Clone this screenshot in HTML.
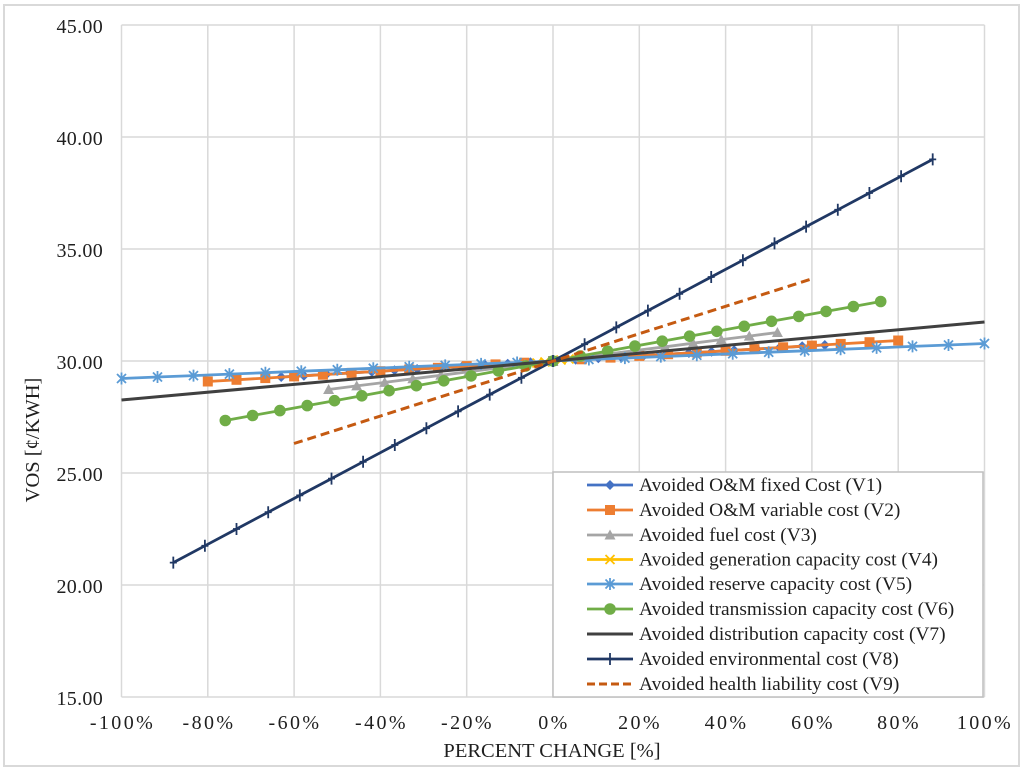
<!DOCTYPE html>
<html>
<head>
<meta charset="utf-8">
<style>
  html, body { margin:0; padding:0; background:#ffffff; }
  svg { display:block; }
  text { font-family: "Liberation Serif", "Times New Roman", serif; fill:#1f1f1f; }
</style>
</head>
<body>
<svg width="1024" height="770" viewBox="0 0 1024 770" xmlns="http://www.w3.org/2000/svg">
  <defs>
    <marker id="mDia" markerUnits="userSpaceOnUse" markerWidth="12" markerHeight="12" refX="0" refY="0" overflow="visible">
      <path d="M0,-5 L5,0 L0,5 L-5,0 Z" fill="#4472c4"/>
    </marker>
    <marker id="mSq" markerUnits="userSpaceOnUse" markerWidth="12" markerHeight="12" refX="0" refY="0" overflow="visible">
      <rect x="-5" y="-5" width="10" height="10" fill="#ed7d31"/>
    </marker>
    <marker id="mTri" markerUnits="userSpaceOnUse" markerWidth="12" markerHeight="12" refX="0" refY="0" overflow="visible">
      <path d="M0,-5.5 L5.5,4.5 L-5.5,4.5 Z" fill="#a5a5a5"/>
    </marker>
    <marker id="mX" markerUnits="userSpaceOnUse" markerWidth="12" markerHeight="12" refX="0" refY="0" overflow="visible">
      <path d="M-4.5,-4.5 L4.5,4.5 M-4.5,4.5 L4.5,-4.5" stroke="#ffc000" stroke-width="1.8" fill="none"/>
    </marker>
    <marker id="mAst" markerUnits="userSpaceOnUse" markerWidth="12" markerHeight="12" refX="0" refY="0" overflow="visible">
      <path d="M-4.5,-4.5 L4.5,4.5 M-4.5,4.5 L4.5,-4.5 M0,-6 L0,6" stroke="#5b9bd5" stroke-width="1.8" fill="none"/>
    </marker>
    <marker id="mCir" markerUnits="userSpaceOnUse" markerWidth="14" markerHeight="14" refX="0" refY="0" overflow="visible">
      <circle cx="0" cy="0" r="5.8" fill="#70ad47"/>
    </marker>
    <marker id="mPlus" markerUnits="userSpaceOnUse" markerWidth="12" markerHeight="12" refX="0" refY="0" overflow="visible">
      <path d="M0,-6 L0,6 M-3.5,0 L3.5,0" stroke="#203864" stroke-width="1.8" fill="none"/>
    </marker>
  </defs>

  <!-- outer border -->
  <rect x="4" y="5" width="1015" height="761" fill="#ffffff" stroke="#d9d9d9" stroke-width="2"/>

  <!-- gridlines -->
  <g stroke="#d9d9d9" stroke-width="1.5" fill="none">
    <line x1="121.5" y1="25" x2="984.5" y2="25"/>
    <line x1="121.5" y1="137" x2="984.5" y2="137"/>
    <line x1="121.5" y1="249" x2="984.5" y2="249"/>
    <line x1="121.5" y1="361" x2="984.5" y2="361"/>
    <line x1="121.5" y1="473" x2="984.5" y2="473"/>
    <line x1="121.5" y1="585" x2="984.5" y2="585"/>
    <line x1="121.5" y1="697" x2="984.5" y2="697"/>
    <line x1="121.5" y1="25" x2="121.5" y2="697"/>
    <line x1="207.8" y1="25" x2="207.8" y2="697"/>
    <line x1="294.1" y1="25" x2="294.1" y2="697"/>
    <line x1="380.4" y1="25" x2="380.4" y2="697"/>
    <line x1="466.7" y1="25" x2="466.7" y2="697"/>
    <line x1="553" y1="25" x2="553" y2="697"/>
    <line x1="639.3" y1="25" x2="639.3" y2="697"/>
    <line x1="725.6" y1="25" x2="725.6" y2="697"/>
    <line x1="811.9" y1="25" x2="811.9" y2="697"/>
    <line x1="898.2" y1="25" x2="898.2" y2="697"/>
    <line x1="984.5" y1="25" x2="984.5" y2="697"/>
  </g>

  <!-- Y tick labels -->
  <g font-size="20" text-anchor="end" letter-spacing="0.3">
    <text x="103" y="33">45.00</text>
    <text x="103" y="145">40.00</text>
    <text x="103" y="257">35.00</text>
    <text x="103" y="369">30.00</text>
    <text x="103" y="481">25.00</text>
    <text x="103" y="593">20.00</text>
    <text x="103" y="705">15.00</text>
  </g>

  <!-- X tick labels -->
  <g font-size="20" text-anchor="middle" letter-spacing="2.4">
    <text x="122.5" y="729">-100%</text>
    <text x="209" y="729">-80%</text>
    <text x="295" y="729">-60%</text>
    <text x="381.5" y="729">-40%</text>
    <text x="467.5" y="729">-20%</text>
    <text x="554" y="729">0%</text>
    <text x="640" y="729">20%</text>
    <text x="726.5" y="729">40%</text>
    <text x="813" y="729">60%</text>
    <text x="899" y="729">80%</text>
    <text x="985" y="729">100%</text>
  </g>

  <!-- axis titles -->
  <text x="552" y="757" font-size="20.5" text-anchor="middle">PERCENT CHANGE [%]</text>
  <text transform="translate(39,440) rotate(-90)" font-size="20.5" text-anchor="middle">VOS [¢/KWH]</text>

  <!-- V1 Avoided O&M fixed cost -->
  <polyline fill="none" stroke="#4472c4" stroke-width="2.8" marker-start="url(#mDia)" marker-mid="url(#mDia)" marker-end="url(#mDia)"
    points="281.2,377 303.9,375.7 326.5,374.3 349.2,373 371.8,371.7 394.5,370.3 417.1,369 439.8,367.7 462.4,366.3 485.1,365 507.7,363.7 530.4,362.3 553,361 575.7,359.7 598.3,358.3 621,357 643.6,355.7 666.3,354.3 688.9,353 711.6,351.7 734.2,350.3 756.9,349 779.5,347.7 802.2,346.3 824.8,345"/>

  <!-- V2 Avoided O&M variable cost -->
  <polyline fill="none" stroke="#ed7d31" stroke-width="2.8" marker-start="url(#mSq)" marker-mid="url(#mSq)" marker-end="url(#mSq)"
    points="207.8,381.5 236.5,379.8 265.3,378.1 294.1,376.4 322.9,374.7 351.6,372.9 380.4,371.2 409.2,369.5 437.9,367.8 466.7,366.1 495.5,364.4 524.2,362.7 553,361 581.8,359.3 610.5,357.6 639.3,355.9 668.1,354.2 696.8,352.5 725.6,350.8 754.4,349.1 783.1,347.3 811.9,345.6 840.7,343.9 869.5,342.2 898.2,340.5"/>

  <!-- V3 Avoided fuel cost -->
  <polyline fill="none" stroke="#a5a5a5" stroke-width="2.8" marker-start="url(#mTri)" marker-mid="url(#mTri)" marker-end="url(#mTri)"
    points="328.6,389.5 356.7,385.9 384.7,382.4 412.8,378.8 440.8,375.3 468.8,371.7 496.9,368.1 524.9,364.6 553,361 581.1,357.4 609.1,353.9 637.2,350.3 665.2,346.8 693.2,343.2 721.3,339.6 749.3,336.1 777.4,332.5"/>

  <!-- V4 Avoided generation capacity cost -->
  <polyline fill="none" stroke="#ffc000" stroke-width="2.8" marker-start="url(#mX)" marker-mid="url(#mX)" marker-end="url(#mX)"
    points="537,363 545,362 553,361 561,360 569,359"/>

  <!-- V5 Avoided reserve capacity cost -->
  <polyline fill="none" stroke="#5b9bd5" stroke-width="2.8" marker-start="url(#mAst)" marker-mid="url(#mAst)" marker-end="url(#mAst)"
    points="121.5,378.5 157.5,377 193.5,375.6 229.4,374.1 265.4,372.7 301.3,371.2 337.3,369.8 373.3,368.3 409.2,366.8 445.2,365.4 481.1,363.9 517.1,362.5 553,361 588.9,359.5 624.9,358.1 660.8,356.6 696.8,355.2 732.7,353.7 768.7,352.2 804.7,350.8 840.6,349.3 876.6,347.9 912.5,346.4 948.5,345 984.5,343.5"/>

  <!-- V6 Avoided transmission capacity cost -->
  <polyline fill="none" stroke="#70ad47" stroke-width="2.8" marker-start="url(#mCir)" marker-mid="url(#mCir)" marker-end="url(#mCir)"
    points="225.3,420.5 252.6,415.5 279.9,410.6 307.2,405.6 334.5,400.7 361.8,395.8 389.1,390.7 416.4,385.7 443.8,380.8 471.1,375.9 498.4,370.9 525.7,366 553,361 580.3,356 607.6,351.1 634.9,346.1 662.2,341.2 689.6,336.2 716.9,331.3 744.2,326.3 771.5,321.3 798.8,316.4 826.1,311.4 853.4,306.5 880.7,301.5"/>

  <!-- V7 Avoided distribution capacity cost -->
  <line x1="121.5" y1="400" x2="984.5" y2="322" stroke="#404040" stroke-width="3"/>

  <!-- V8 Avoided environmental cost -->
  <polyline fill="none" stroke="#203864" stroke-width="2.8" marker-start="url(#mPlus)" marker-mid="url(#mPlus)" marker-end="url(#mPlus)"
    points="173.3,562.6 204.9,545.8 236.5,529 268.2,512.2 299.8,495.4 331.5,478.6 363.1,461.8 394.8,445 426.4,428.2 458.1,411.4 489.7,394.6 521.4,377.8 553,361 584.6,344.2 616.3,327.4 647.9,310.6 679.6,293.8 711.2,277 742.9,260.2 774.5,243.4 806.1,226.6 837.8,209.8 869.4,193 901.1,176.2 932.7,159.4"/>

  <!-- V9 Avoided health liability cost -->
  <line x1="294" y1="443.5" x2="813" y2="278.5" stroke="#c55a11" stroke-width="3" stroke-dasharray="9,5"/>

  <!-- legend -->
  <rect x="553" y="472" width="430" height="225" fill="#ffffff" stroke="#bfbfbf" stroke-width="1.5"/>
  <g fill="none" stroke-width="2.8">
    <path d="M587,485 L610,485 L633,485" stroke="#4472c4" marker-mid="url(#mDia)"/>
    <path d="M587,510 L610,510 L633,510" stroke="#ed7d31" marker-mid="url(#mSq)"/>
    <path d="M587,535 L610,535 L633,535" stroke="#a5a5a5" marker-mid="url(#mTri)"/>
    <path d="M587,559.5 L610,559.5 L633,559.5" stroke="#ffc000" marker-mid="url(#mX)"/>
    <path d="M587,584 L610,584 L633,584" stroke="#5b9bd5" marker-mid="url(#mAst)"/>
    <path d="M587,609 L610,609 L633,609" stroke="#70ad47" marker-mid="url(#mCir)"/>
    <path d="M587,634 L610,634 L633,634" stroke="#404040" stroke-width="3"/>
    <path d="M587,659 L610,659 L633,659" stroke="#203864" marker-mid="url(#mPlus)"/>
    <path d="M587,684 L633,684" stroke="#c55a11" stroke-width="3" stroke-dasharray="8,4"/>
  </g>
  <g font-size="19.4">
    <text x="639" y="491">Avoided O&amp;M fixed Cost (V1)</text>
    <text x="639" y="516">Avoided O&amp;M variable cost (V2)</text>
    <text x="639" y="541">Avoided fuel cost (V3)</text>
    <text x="639" y="565.5">Avoided generation capacity cost (V4)</text>
    <text x="639" y="590">Avoided reserve capacity cost (V5)</text>
    <text x="639" y="615">Avoided transmission capacity cost (V6)</text>
    <text x="639" y="640">Avoided distribution capacity cost (V7)</text>
    <text x="639" y="665">Avoided environmental cost (V8)</text>
    <text x="639" y="690">Avoided health liability cost (V9)</text>
  </g>
</svg>
</body>
</html>
